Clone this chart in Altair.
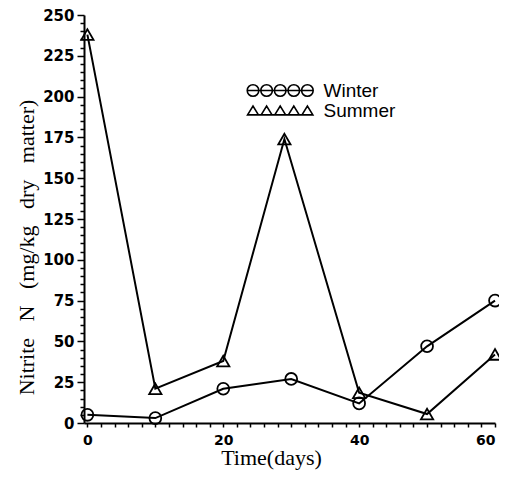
import altair as alt
import pandas as pd

# ---- data ----
winter_days = [0, 10, 20, 30, 40, 50, 60]
winter_vals = [5, 3, 21, 27, 12, 47, 75]
summer_days = [0, 10, 20, 29, 40, 50, 60]
summer_vals = [238, 21, 38, 174, 18.5, 5.5, 42]
series_names = ["Winter", "Summer"]
x_tick_values = list(range(0, 61, 2))
y_tick_values = list(range(0, 251, 5))

df_w = pd.DataFrame({"day": winter_days, "value": winter_vals, "series": series_names[0]})
df_s = pd.DataFrame({"day": summer_days, "value": summer_vals, "series": series_names[1]})

# ---- legend symbol paths (5 markers on a line) ----
def circles_path(r=0.85, n=5, step=2.0):
    parts = [f"M{-r},0L{(n - 1) * step + r},0"]
    for i in range(n):
        cx = i * step
        parts.append(f"M{cx - r},0A{r},{r} 0 1,0 {cx + r},0A{r},{r} 0 1,0 {cx - r},0Z")
    return "".join(parts)

def triangles_path(r=0.8, h=0.65, n=5, step=2.0):
    parts = [f"M{-r},{h}L{(n - 1) * step + r},{h}"]
    for i in range(n):
        cx = i * step
        parts.append(f"M{cx - r},{h}L{cx},{-h}L{cx + r},{h}Z")
    return "".join(parts)

x_enc = alt.X(
    "day:Q",
    scale=alt.Scale(domain=[-0.5, 60], nice=False, zero=False),
    axis=alt.Axis(
        values=x_tick_values,
        labelExpr="datum.value % 20 === 0 ? datum.label : ''",
        title="Time(days)",
        grid=False,
        domainColor="black", domainWidth=2,
        tickColor="black", tickWidth=1.5, tickSize=4,
        labelFont="DejaVu Sans", labelFontWeight="bold", labelFontSize=14,
        labelColor="black", labelPadding=6, labelFlush=1, labelOverlap=False,
        titleFont="Liberation Serif", titleFontSize=22, titleFontWeight="normal",
        titleColor="black", titleX=187, titleY=41, titleAlign="center",
        titleBaseline="alphabetic",
    ),
)
y_enc = alt.Y(
    "value:Q",
    scale=alt.Scale(domain=[0, 250], nice=False),
    axis=alt.Axis(
        values=y_tick_values,
        labelExpr="datum.value % 25 === 0 ? datum.label : ''",
        title="Nitrite\u00a0\u00a0\u00a0N\u00a0\u00a0\u00a0(mg/kg\u00a0\u00a0\u00a0dry\u00a0\u00a0\u00a0matter)",
        grid=False,
        domainColor="black", domainWidth=2,
        tickColor="black", tickWidth=1.5,
        tickSize={"condition": {"test": "datum.value % 25 === 0", "value": 7}, "value": 4},
        labelFont="DejaVu Sans", labelFontWeight="bold", labelFontSize=15,
        labelColor="black", labelPadding=3, labelFlush=False, labelOverlap=False,
        titleFont="Liberation Serif", titleFontSize=22, titleFontWeight="normal",
        titleColor="black", titleX=-51, titleY=232, titleAlign="center",
        titleBaseline="alphabetic", titleAngle=270,
    ),
)

def legend_for(path, ly):
    return alt.Legend(
        title=None, orient="none", legendX=159.5, legendY=ly, padding=0,
        symbolType=path, symbolSize=185, symbolStrokeWidth=1.6,
        symbolFillColor="transparent", symbolStrokeColor="black",
        labelFont="Liberation Sans", labelFontSize=19, labelColor="black",
        labelOffset=61, labelBaseline="middle",
    )

w_line = alt.Chart(df_w).mark_line(strokeWidth=2).encode(
    x=x_enc, y=y_enc,
    color=alt.Color("series:N", scale=alt.Scale(range=["black"]),
                    legend=legend_for(circles_path(), 66)),
)
w_pts = alt.Chart(df_w).mark_point(shape="circle", filled=False, size=140,
                                   strokeWidth=1.8, color="black", opacity=1).encode(x=x_enc, y=y_enc)
s_line = alt.Chart(df_s).mark_line(strokeWidth=2).encode(
    x=x_enc, y=y_enc,
    color=alt.Color("series:N", scale=alt.Scale(range=["black"]),
                    legend=legend_for(triangles_path(), 86)),
)
s_pts = alt.Chart(df_s).mark_point(shape="triangle-up", filled=False, size=150,
                                   strokeWidth=1.8, color="black", opacity=1).encode(x=x_enc, y=y_enc)

chart = alt.layer(w_line, w_pts, s_line, s_pts).resolve_scale(
    color="independent"
).properties(
    width=411, height=408,
    padding={"left": 76, "top": 7, "right": 4, "bottom": 50},
    autosize=alt.AutoSizeParams(type="none"),
    background="white",
).configure_view(stroke=None)

chart.save("out.html", embed_options={"renderer": "svg", "actions": False})
